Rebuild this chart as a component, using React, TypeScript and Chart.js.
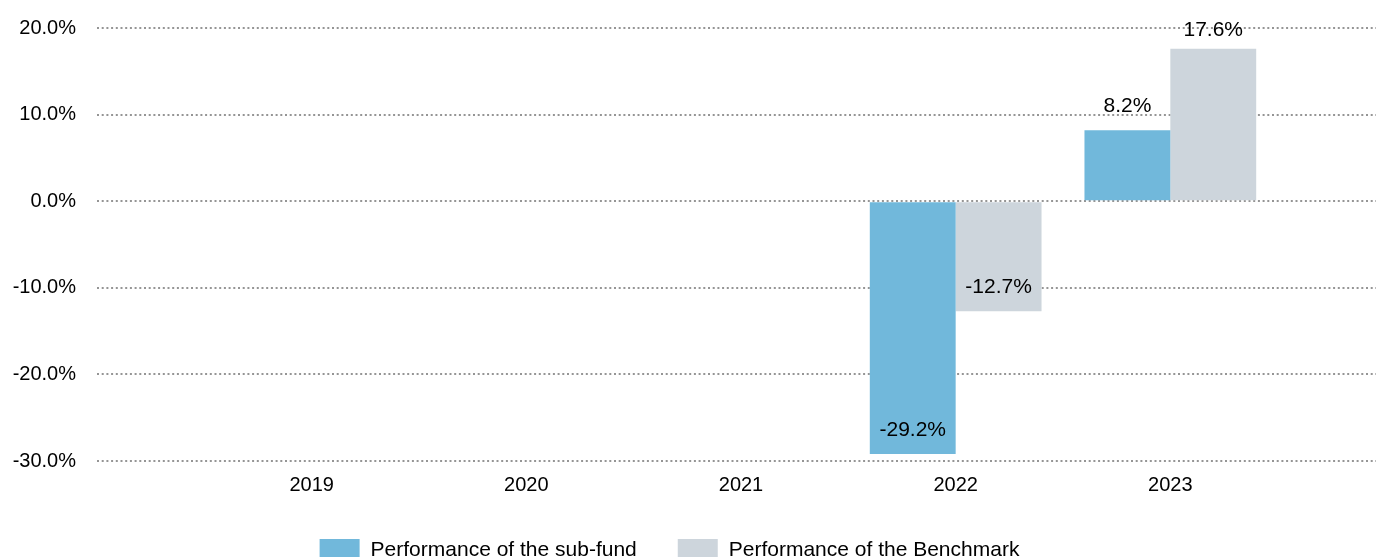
import React, { useEffect, useRef } from 'react';
import { Chart, registerables } from 'chart.js';

Chart.register(...registerables);

const years = ['2019', '2020', '2021', '2022', '2023'];
const subFund: (number | null)[] = [null, null, null, -29.2, 8.2];
const benchmark: (number | null)[] = [null, null, null, -12.7, 17.6];
const seriesNames = ['Performance of the sub-fund', 'Performance of the Benchmark'];
const seriesColors = ['#71B8DB', '#CDD5DC'];
const yMin = -30;
const yMax = 20;
const yStep = 10;

const FONT_FAMILY = "'Liberation Sans', Arial, Helvetica, sans-serif";
const CANVAS_W = 1397;
const CANVAS_H = 600;

// empty slots at both ends so year labels sit on gridline-like positions
const labels = ['', ...years, ''];
const padSeries = (a: (number | null)[]) => [null, ...a, null];

const valueLabelPlugin = {
  id: 'valueLabels',
  afterDatasetsDraw(chart: any) {
    const { ctx, chartArea } = chart;
    ctx.save();
    ctx.font = `21px ${FONT_FAMILY}`;
    ctx.fillStyle = '#000';
    ctx.textAlign = 'center';
    ctx.textBaseline = 'middle';
    chart.data.datasets.forEach((ds: any, i: number) => {
      const meta = chart.getDatasetMeta(i);
      meta.data.forEach((el: any, j: number) => {
        const v = ds.data[j];
        if (v === null || v === undefined) return;
        const y = Math.max(el.y - 24, chartArea.top + 2);
        ctx.fillText(`${v.toFixed(1)}%`, el.x, y);
      });
    });
    ctx.restore();
  },
};

const legendPlugin = {
  id: 'customLegend',
  afterDraw(chart: any) {
    const { ctx } = chart;
    const boxW = 40;
    const boxH = 20;
    const textGap = 11;
    const itemGap = 41;
    const centerX = 669.5;
    const top = 539;
    ctx.save();
    ctx.font = `21px ${FONT_FAMILY}`;
    const items = chart.data.datasets.map((ds: any) => ({
      text: ds.label,
      color: ds.backgroundColor,
      w: boxW + textGap + ctx.measureText(ds.label).width,
    }));
    const total = items.reduce((s: number, it: any) => s + it.w, 0) + itemGap * (items.length - 1);
    let x = centerX - total / 2;
    ctx.textBaseline = 'middle';
    ctx.textAlign = 'left';
    items.forEach((it: any) => {
      ctx.fillStyle = it.color;
      ctx.fillRect(x, top, boxW, boxH);
      ctx.fillStyle = '#000';
      ctx.fillText(it.text, x + boxW + textGap, top + boxH / 2 + 1);
      x += it.w + itemGap;
    });
    ctx.restore();
  },
};

export default function App() {
  const canvasRef = useRef<HTMLCanvasElement | null>(null);

  useEffect(() => {
    if (!canvasRef.current) return;
    const chart = new Chart(canvasRef.current, {
      type: 'bar',
      data: {
        labels,
        datasets: [
          {
            label: seriesNames[0],
            data: padSeries(subFund),
            backgroundColor: seriesColors[0],
            borderWidth: 0,
          },
          {
            label: seriesNames[1],
            data: padSeries(benchmark),
            backgroundColor: seriesColors[1],
            borderWidth: 0,
          },
        ],
      },
      options: {
        responsive: false,
        animation: false,
        devicePixelRatio: 1,
        layout: { padding: { left: 12, top: 28, right: 0, bottom: CANVAS_H - 461 - 36 } },
        datasets: {
          bar: { categoryPercentage: 0.8, barPercentage: 1 },
        },
        plugins: {
          legend: { display: false },
          tooltip: { enabled: false },
        },
        scales: {
          x: {
            offset: false,
            grid: { display: false, drawTicks: false },
            border: { display: false },
            ticks: {
              font: { family: FONT_FAMILY, size: 20 },
              color: '#000',
              padding: 12,
              autoSkip: false,
              maxRotation: 0,
            },
            afterFit(scale: any) {
              scale.height = 36;
            },
          },
          y: {
            min: yMin,
            max: yMax,
            grid: {
              color: '#959595',
              lineWidth: 2,
              drawTicks: true,
              tickLength: 21,
              tickColor: 'rgba(0,0,0,0)',
            },
            border: { display: false, dash: [2, 2.7] },
            ticks: {
              stepSize: yStep,
              font: { family: FONT_FAMILY, size: 20 },
              color: '#000',
              padding: 0,
              callback: (v: any) => `${Number(v).toFixed(1)}%`,
            },
            afterFit(scale: any) {
              scale.width = 85;
            },
          },
        },
      } as any,
      plugins: [valueLabelPlugin, legendPlugin],
    });
    return () => chart.destroy();
  }, []);

  return (
    <div
      style={{
        position: 'fixed',
        left: 0,
        top: 0,
        width: 1376,
        height: 557,
        overflow: 'hidden',
        background: '#fff',
      }}
    >
      <canvas
        ref={canvasRef}
        width={CANVAS_W}
        height={CANVAS_H}
        style={{ position: 'absolute', left: 0, top: 0, width: CANVAS_W, height: CANVAS_H }}
      />
    </div>
  );
}
